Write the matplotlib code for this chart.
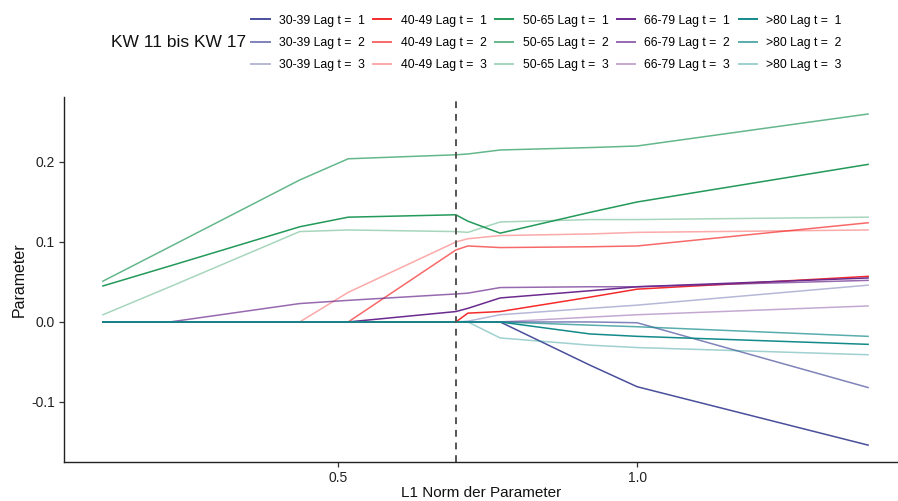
import matplotlib
matplotlib.use("Agg")
import matplotlib.pyplot as plt
from matplotlib.lines import Line2D

plt.rcParams['font.family'] = ['Liberation Sans', 'DejaVu Sans']

# L1 norm knots (x)
l1 = [0.107, 0.219, 0.436, 0.517, 0.697, 0.717, 0.771, 0.921, 1.000, 1.386]

age_groups = ["30-39", "40-49", "50-65", "66-79", ">80"]
lags = [1, 2, 3]

# coefficient paths
a3039_l1 = [0, 0, 0, 0, 0, 0, 0, -0.054, -0.081, -0.154]
a3039_l2 = [0, 0, 0, 0, 0, 0, 0, 0, -0.001, -0.082]
a3039_l3 = [0, 0, 0, 0, 0, 0.001, 0.009, 0.017, 0.021, 0.046]

a4049_l1 = [0, 0, 0, 0, 0, 0.011, 0.013, 0.031, 0.041, 0.057]
a4049_l2 = [0, 0, 0, 0, 0.090, 0.095, 0.093, 0.094, 0.095, 0.124]
a4049_l3 = [0, 0, 0, 0.037, 0.100, 0.104, 0.108, 0.110, 0.112, 0.115]

a5065_l1 = [0.045, 0.070, 0.119, 0.131, 0.134, 0.126, 0.111, 0.137, 0.150, 0.197]
a5065_l2 = [0.051, 0.094, 0.1775, 0.204, 0.209, 0.210, 0.215, 0.218, 0.220, 0.260]
a5065_l3 = [0.009, 0.044, 0.113, 0.115, 0.113, 0.112, 0.125, 0.128, 0.128, 0.131]

a6679_l1 = [0, 0, 0, 0, 0.013, 0.017, 0.030, 0.039, 0.044, 0.055]
a6679_l2 = [0, 0, 0.023, 0.027, 0.035, 0.036, 0.043, 0.044, 0.044, 0.052]
a6679_l3 = [0, 0, 0, 0, 0, 0, 0, 0.006, 0.009, 0.020]

a80_l1 = [0, 0, 0, 0, 0, 0, 0, -0.015, -0.018, -0.028]
a80_l2 = [0, 0, 0, 0, 0, 0, 0, -0.004, -0.006, -0.018]
a80_l3 = [0, 0, 0, 0, 0, 0, -0.020, -0.029, -0.032, -0.041]

series = {
    "30-39": [a3039_l1, a3039_l2, a3039_l3],
    "40-49": [a4049_l1, a4049_l2, a4049_l3],
    "50-65": [a5065_l1, a5065_l2, a5065_l3],
    "66-79": [a6679_l1, a6679_l2, a6679_l3],
    ">80": [a80_l1, a80_l2, a80_l3],
}

base_colors = {
    "30-39": "#4a4f9c",
    "40-49": "#f52a2a",
    "50-65": "#23995a",
    "66-79": "#6b2a8e",
    ">80": "#138a8a",
}
lag_alpha = {1: 1.0, 2: 0.7, 3: 0.4}

cv_l1 = 0.697
legend_title = "KW 11 bis KW 17"

fig = plt.figure(figsize=(8.98, 5.01), dpi=100)
ax = fig.add_axes([0.0713, 0.078, 0.9287, 0.728])

handles = []
for g in age_groups:
    for i, lag in enumerate(lags):
        vals = series[g][i]
        ax.plot(l1, vals, color=base_colors[g], alpha=lag_alpha[lag],
                lw=1.1, solid_joinstyle='round')
        handles.append(Line2D([0], [0], color=base_colors[g], alpha=lag_alpha[lag], lw=1.4,
                              label=f"{g} Lag t =  {lag}"))

ax.axvline(cv_l1, color="#555555", lw=1.4, ls=(0, (3.5, 3)))

ax.set_xlim(0.042, 1.436)
ax.set_ylim(-0.175, 0.281)
ax.set_xticks([0.5, 1.0])
ax.set_xticklabels(["0.5", "1.0"])
ax.set_yticks([-0.1, 0.0, 0.1, 0.2])
ax.set_yticklabels(["-0.1", "0.0", "0.1", "0.2"])
for s in ["top", "right"]:
    ax.spines[s].set_visible(False)
for s in ["left", "bottom"]:
    ax.spines[s].set_color("#222222")
    ax.spines[s].set_linewidth(1.0)
ax.tick_params(axis='both', length=3.5, width=0.9, color="#333333",
               labelsize=10, labelcolor="#222222", pad=3)
ax.set_xlabel("L1 Norm der Parameter", fontsize=11, color="#111111", labelpad=1)
ax.set_ylabel("Parameter", fontsize=11.5, color="#111111", labelpad=3)

fig.legend(handles=handles, ncol=5, loc="upper left", bbox_to_anchor=(0.2675, 0.993),
           frameon=False, fontsize=8.8, handlelength=1.5, handletextpad=0.75,
           columnspacing=0.7, labelspacing=0.85)
fig.text(0.124, 0.915, legend_title, fontsize=12.5, color="#111111", va="center", ha="left")

fig.savefig("out.png", dpi=100)
